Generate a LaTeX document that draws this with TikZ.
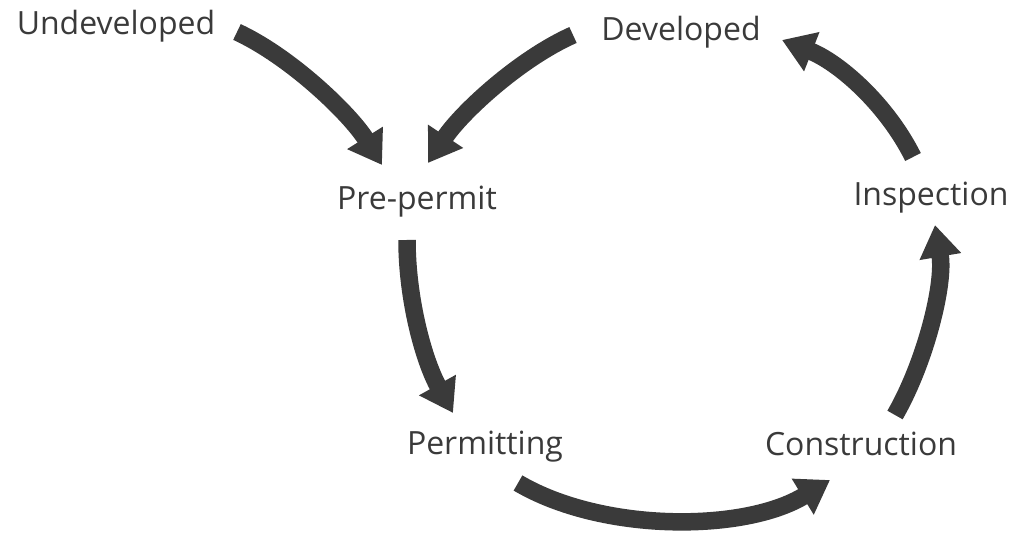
\documentclass[tikz,border=0pt]{standalone}
\usepackage{fontspec}
\setmainfont{Open Sans}
\usetikzlibrary{arrows.meta}
\definecolor{ink}{RGB}{58,58,58}
\begin{document}
\begin{tikzpicture}[x=1pt,y=-1pt,
  label/.style={inner sep=0pt,anchor=base,text=ink,font=\fontsize{32}{36}\selectfont},
  flow/.style={draw=ink,line width=17.5pt,
    -{Triangle[width=40pt,length=32pt,fill=ink]}}]
\useasboundingbox (0,0) rectangle (1015,534);

% stage labels
\node[label] (undev) at (116,35)  {Undeveloped};
\node[label] (dev)   at (681,41)  {Developed};
\node[label] (pre)   at (417,210) {Pre-permit};
\node[label] (insp)  at (931,206) {Inspection};
\node[label] (perm)  at (485,454) {Permitting};
\node[label] (cons)  at (861,456) {Construction};

% arrow end points around the labels
\coordinate (undev-out) at (237,32);
\coordinate (pre-in1)   at (382,165);
\coordinate (dev-out)   at (573,35);
\coordinate (pre-in2)   at (428,163);
\coordinate (pre-out)   at (407,240);
\coordinate (perm-in)   at (453,413);
\coordinate (perm-out)  at (518,483);
\coordinate (cons-in)   at (830,480);
\coordinate (cons-out)  at (895,415);
\coordinate (insp-in)   at (935,225);
\coordinate (insp-out)  at (913,157);
\coordinate (dev-in)    at (782,40);

% curved arrows
\draw[flow] (undev-out) .. controls (291,57) and (350,114) .. (pre-in1);
\draw[flow] (dev-out) .. controls (519,59) and (461,113) .. (pre-in2);
\draw[flow] (pre-out) .. controls (407,300) and (424,361) .. (perm-in);
\draw[flow] (perm-out) .. controls (603,533) and (745,532) .. (cons-in);
\draw[flow] (cons-out) .. controls (925,363) and (945,284) .. (insp-in);
\draw[flow] (insp-out) .. controls (886,103) and (838,62) .. (dev-in);
\end{tikzpicture}
\end{document}
